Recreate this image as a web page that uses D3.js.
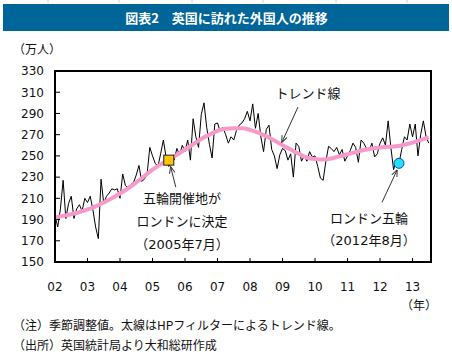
<!DOCTYPE html>
<html>
<head>
<meta charset="utf-8">
<script src="https://cdn.jsdelivr.net/npm/d3@7"></script>
<style>
  html, body { margin: 0; padding: 0; background: #fff; }
  svg { display: block; }
  text { font-family: "DejaVu Sans", "Noto Sans CJK JP", sans-serif; fill: #111; }
</style>
</head>
<body>
<svg id="chart" width="452" height="359"></svg>
<script>
// ---- data ----
const titleText = "図表2　英国に訪れた外国人の推移";
const unitLabel = "（万人）";
const yearLabel = "（年）";
const startYear = 2002;           // monthly series starts Jan 2002
const yearTicks = [2002,2003,2004,2005,2006,2007,2008,2009,2010,2011,2012,2013];
const yearTickLabels = ["02","03","04","05","06","07","08","09","10","11","12","13"];
const yTicks = [150,170,190,210,230,250,270,290,310,330];

// monthly visitors (10k persons), seasonally adjusted, Jan 2002 -> Jul 2013
const visitors = [
  194,183,200,227,191,205,212,191,200,204,198,210,
  206,212,199,183,172,228,205,212,215,219,218,219,
  210,233,222,220,223,225,232,241,226,228,233,258,
  250,243,240,252,265,249,240,244,246,257,251,260,
  254,265,246,285,268,258,289,300,277,261,248,280,
  281,273,277,270,262,268,265,274,279,281,285,292,
  283,299,276,290,268,254,275,279,256,250,238,251,
  257,255,246,252,230,262,259,245,250,245,254,249,
  250,240,229,227,245,259,257,254,258,251,256,245,
  250,255,262,258,244,265,262,257,255,262,249,252,
  262,267,260,283,258,237,246,243,256,268,265,280,
  268,280,250,270,283,268,262
];
// HP-filter trend, read every 3 months from Jan 2002
const trendStepMonths = 3;
const trend = [
  192,193.5,195,197,199.5,202.5,206,210,214.5,219.5,225,231,
  237,242,246.5,251,256,261,266,270,273.5,275.5,276,276,
  274.5,272,268.5,264.5,260,256,252,248.5,247,246.5,247.5,249.5,
  251.5,253.5,255.5,257,258,258.5,259,260.5,262.5,265,267.5
];
// events
const events = [
  { year: 2005, month: 7, value: 246, kind: "square", lines: ["五輪開催地が","ロンドンに決定","（2005年7月）"] },
  { year: 2012, month: 8, value: 243, kind: "circle", lines: ["ロンドン五輪","（2012年8月）"] }
];
const trendLabel = "トレンド線";
const notes = ["（注）季節調整値。太線はHPフィルターによるトレンド線。",
               "（出所）英国統計局より大和総研作成"];

// ---- drawing ----
const svg = d3.select("#chart");
const W = 452, H = 359;
const plot = { left: 55, right: 431, top: 71, bottom: 262 };

const x = d3.scaleLinear()
  .domain([startYear, startYear + (visitors.length) / 12])
  .range([plot.left, plot.right + 0.5]);
const y = d3.scaleLinear().domain([150, 330]).range([plot.bottom, plot.top]);

// faint table lines above title
svg.append("g").selectAll("line")
  .data([48,119,192,263,336,407]).join("line")
  .attr("x1", d => d).attr("x2", d => d).attr("y1", 0).attr("y2", 3)
  .attr("stroke", "#d0d0d0").attr("stroke-width", 1);

// title bar
svg.append("rect").attr("x", 3).attr("y", 4).attr("width", 446).attr("height", 27)
  .attr("fill", "#006699");
svg.append("text").attr("x", 226.5).attr("y", 22.5).attr("text-anchor", "middle")
  .style("fill", "#fff").style("font-weight", "bold").style("font-size", "13px")
  .style("font-family", "'Noto Sans CJK JP', sans-serif")
  .text(titleText);

// unit label
svg.append("text").attr("x", 13).attr("y", 54).style("font-size", "12px")
  .style("font-family", "'Noto Sans CJK JP', sans-serif").text(unitLabel);

// y axis labels
svg.append("g").selectAll("text").data(yTicks).join("text")
  .attr("x", 44).attr("y", d => y(d)).attr("dy", "0.36em")
  .attr("text-anchor", "end").style("font-size", "12px").text(d => d);

// y inner ticks (left)
svg.append("g").selectAll("line").data(yTicks.slice(1, -1)).join("line")
  .attr("x1", plot.left).attr("x2", plot.left + 5)
  .attr("y1", d => y(d)).attr("y2", d => y(d))
  .attr("stroke", "#000").attr("stroke-width", 1);

// x inner ticks (bottom)
svg.append("g").selectAll("line").data(yearTicks.slice(1)).join("line")
  .attr("x1", d => x(d)).attr("x2", d => x(d))
  .attr("y1", plot.bottom).attr("y2", plot.bottom - 4)
  .attr("stroke", "#000").attr("stroke-width", 1);

// x labels
svg.append("g").selectAll("text").data(yearTicks).join("text")
  .attr("x", d => x(d)).attr("y", 291)
  .attr("text-anchor", "middle").style("font-size", "12px")
  .text((d, i) => yearTickLabels[i]);

svg.append("text").attr("x", 419).attr("y", 310).attr("text-anchor", "middle")
  .style("font-size", "12px").style("font-family", "'Noto Sans CJK JP', sans-serif")
  .text(yearLabel);

// clip
svg.append("clipPath").attr("id", "clip").append("rect")
  .attr("x", plot.left).attr("y", plot.top)
  .attr("width", plot.right - plot.left).attr("height", plot.bottom - plot.top);

const g = svg.append("g").attr("clip-path", "url(#clip)");

// monthly line
const line = d3.line()
  .x((d, i) => x(startYear + i / 12))
  .y(d => y(d));
g.append("path").datum(visitors).attr("d", line)
  .attr("fill", "none").attr("stroke", "#000").attr("stroke-width", 1)
  .attr("stroke-linejoin", "miter");

// trend line
const tline = d3.line()
  .x((d, i) => x(startYear + i * trendStepMonths / 12))
  .y(d => y(d))
  .curve(d3.curveMonotoneX);
g.append("path").datum(trend).attr("d", tline)
  .attr("fill", "none").attr("stroke", "#F79ACB").attr("stroke-width", 4);

// frame
svg.append("rect").attr("x", plot.left).attr("y", plot.top)
  .attr("width", plot.right - plot.left).attr("height", plot.bottom - plot.top)
  .attr("fill", "none").attr("stroke", "#000").attr("stroke-width", 2);

// arrow marker
svg.append("defs").append("marker").attr("id", "arr")
  .attr("viewBox", "0 0 10 10").attr("refX", 9).attr("refY", 5)
  .attr("markerWidth", 7).attr("markerHeight", 7).attr("orient", "auto")
  .append("path").attr("d", "M0,1 L10,5 L0,9").attr("fill", "none")
  .attr("stroke", "#333").attr("stroke-width", 1.4);

// event markers
const ev0 = events[0], ev1 = events[1];
const ex0 = x(ev0.year + (ev0.month - 1) / 12), ey0 = y(ev0.value);
const ex1 = x(ev1.year + (ev1.month - 1) / 12), ey1 = y(ev1.value);

svg.append("rect").attr("x", ex0 - 5).attr("y", ey0 - 5).attr("width", 10).attr("height", 10)
  .attr("fill", "#FFC600").attr("stroke", "#222").attr("stroke-width", 1);
svg.append("circle").attr("cx", ex1).attr("cy", ey1).attr("r", 5)
  .attr("fill", "#1EE3FF").attr("stroke", "#1a3fa8").attr("stroke-width", 1);

// arrows
const arrows = [
  { x1: ex0 + 7, y1: ey0 + 27, x2: ex0 + 2, y2: ey0 + 7 },
  { x1: 298, y1: 107, x2: 282, y2: 142 },
  { x1: ex1 - 17, y1: ey1 + 39, x2: ex1 - 2, y2: ey1 + 7 }
];
svg.append("g").selectAll("line").data(arrows).join("line")
  .attr("x1", d => d.x1).attr("y1", d => d.y1).attr("x2", d => d.x2).attr("y2", d => d.y2)
  .attr("stroke", "#333").attr("stroke-width", 1).attr("marker-end", "url(#arr)");

// annotation texts
const annFont = "13px";
svg.append("g").selectAll("text").data(ev0.lines).join("text")
  .attr("x", 182).attr("y", (d, i) => 203 + i * 23).attr("text-anchor", "middle")
  .style("font-size", annFont).text(d => d);
svg.append("g").selectAll("text").data(ev1.lines).join("text")
  .attr("x", 369).attr("y", (d, i) => 223 + i * 21.5).attr("text-anchor", "middle")
  .style("font-size", annFont).text(d => d);
svg.append("text").attr("x", 308).attr("y", 98).attr("text-anchor", "middle")
  .style("font-size", annFont).text(trendLabel);

// notes
svg.append("g").selectAll("text").data(notes).join("text")
  .attr("x", 13).attr("y", (d, i) => 330 + i * 20)
  .style("font-size", "12px").style("font-family", "'Noto Sans CJK JP', sans-serif")
  .text(d => d);
</script>
</body>
</html>
